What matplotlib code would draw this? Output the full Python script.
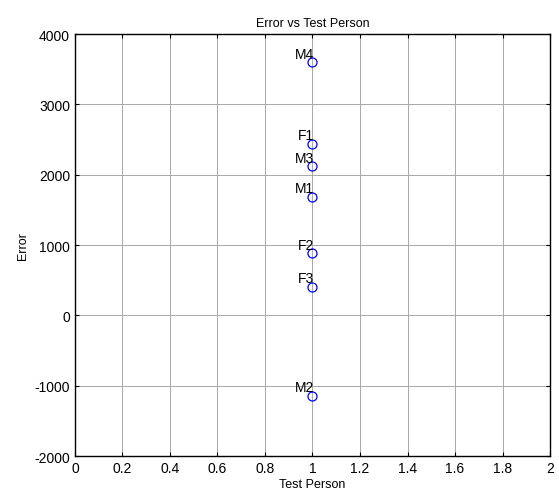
import numpy as np
import matplotlib
matplotlib.use("Agg")
import matplotlib.pyplot as plt

plt.rcParams['font.family'] = ['Liberation Sans', 'DejaVu Sans']
plt.rcParams['axes.unicode_minus'] = False

# test persons and their error values
names = ["M4", "F1", "M3", "M1", "F2", "F3", "M2"]
person = [1, 1, 1, 1, 1, 1, 1]
errors = [3600, 2440, 2125, 1690, 885, 410, -1140]

fig = plt.figure(figsize=(5.59, 5.02), dpi=100)
ax = fig.add_axes([0.134, 0.0896, 0.850, 0.8404])

ax.plot(person, errors, "o", mfc="none", mec="blue", ms=6.5, mew=0.9)
for x, y, s in zip(person, errors, names):
    ax.annotate(s, (x, y), xytext=(1, 1), textcoords="offset points",
                ha="right", va="bottom", fontsize=10)

ax.set_xlim(0, 2)
ax.set_ylim(-2000, 4000)
ax.set_xticks(np.arange(0, 2.01, 0.2))
ax.set_xticklabels(["0", "0.2", "0.4", "0.6", "0.8", "1", "1.2", "1.4", "1.6", "1.8", "2"])
ax.set_yticks(np.arange(-2000, 4001, 1000))
ax.grid(True, color="#a8a8a8", linewidth=0.7)
ax.tick_params(direction="in", length=3, labelsize=10, top=True, right=True)
for sp in ax.spines.values():
    sp.set_linewidth(1.0)

ax.set_title("Error vs Test Person", fontsize=9)
ax.set_xlabel("Test Person", fontsize=9, labelpad=2)
ax.set_ylabel("Error", fontsize=9)

fig.savefig("out.png", dpi=100)
